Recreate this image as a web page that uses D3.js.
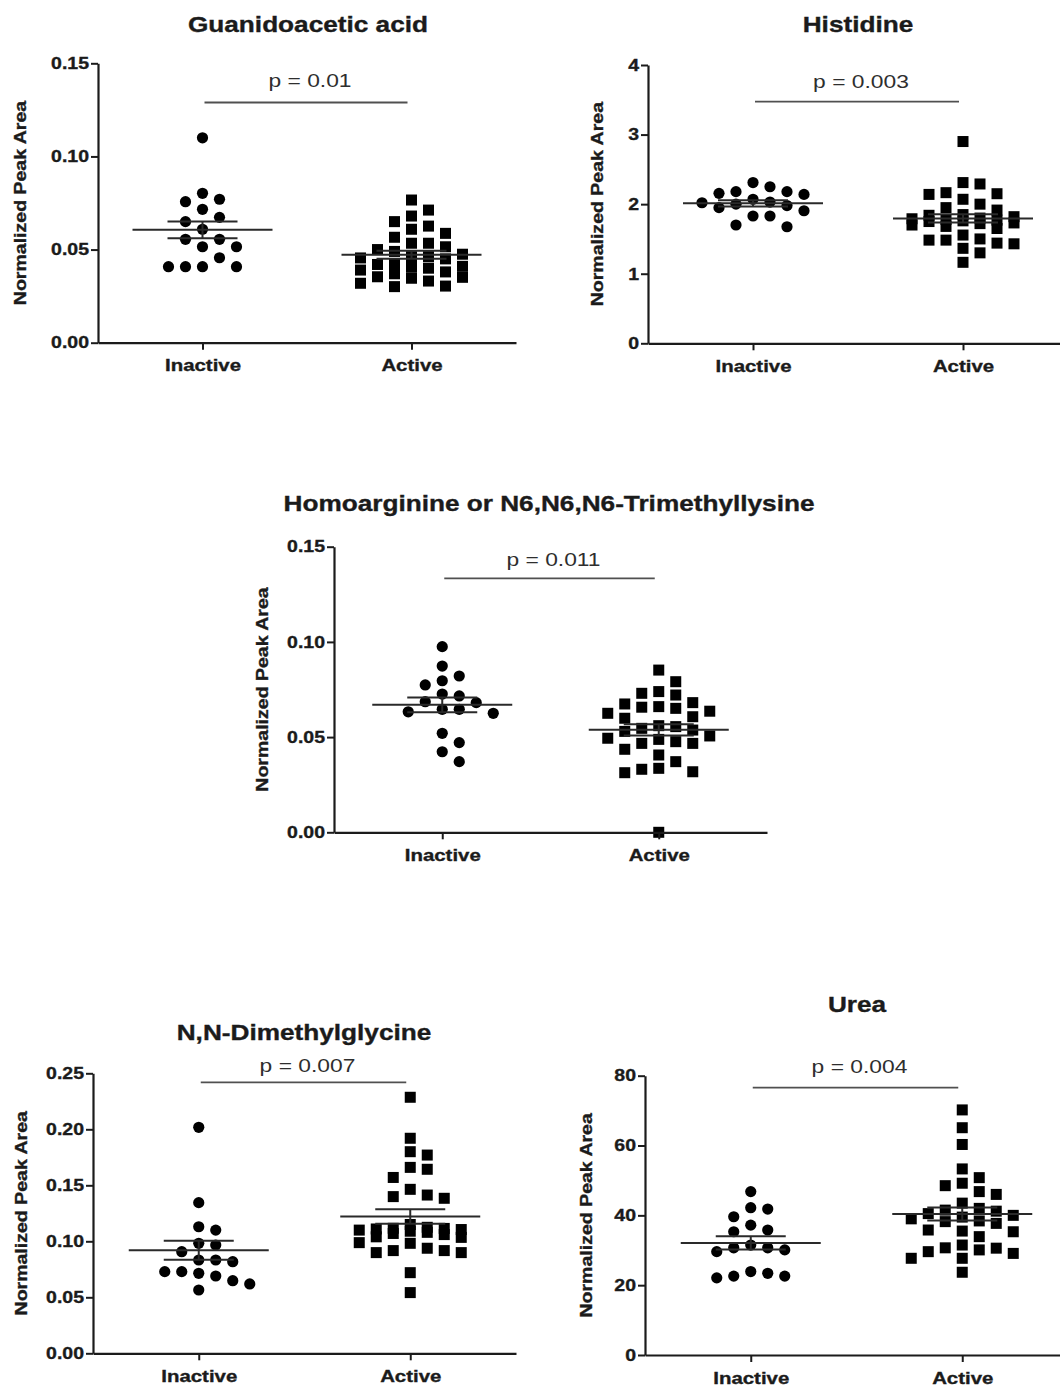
<!DOCTYPE html>
<html>
<head>
<meta charset="utf-8">
<script src="https://cdn.jsdelivr.net/npm/d3@7"></script>
<style>
  html, body { margin: 0; padding: 0; background: #fff; }
  svg { display: block; }
</style>
</head>
<body>
<script>
// ---- data -----------------------------------------------------------------
const categories = ["Inactive", "Active"];

const guanidoaceticInactive = [0.110, 0.0802, 0.0770, 0.0757, 0.0716, 0.0673, 0.0650, 0.0609, 0.0555, 0.0555, 0.0515, 0.0515, 0.0456, 0.0408, 0.0408, 0.0408, 0.0408];
const guanidoaceticActive = [0.0766, 0.0712, 0.0680, 0.0650, 0.0626, 0.0609, 0.0587, 0.0566, 0.0534, 0.0534, 0.0515, 0.0500, 0.0490, 0.0475, 0.0462, 0.0462, 0.0455, 0.0450, 0.0420, 0.0420, 0.0410, 0.0405, 0.0400, 0.0390, 0.0380, 0.0370, 0.0354, 0.0351, 0.0346, 0.0331, 0.0319, 0.0304, 0.0301];

const histidineInactive = [2.31, 2.25, 2.18, 2.18, 2.155, 2.14, 2.07, 2.03, 2.02, 2.00, 1.98, 1.95, 1.905, 1.83, 1.83, 1.70, 1.675];
const histidineActive = [2.90, 2.31, 2.29, 2.165, 2.15, 2.14, 2.07, 2.00, 1.95, 1.915, 1.85, 1.84, 1.82, 1.80, 1.79, 1.78, 1.77, 1.76, 1.75, 1.73, 1.72, 1.70, 1.68, 1.65, 1.556, 1.50, 1.483, 1.483, 1.44, 1.43, 1.365, 1.30, 1.164];

const homoarginineInactive = [0.0975, 0.0873, 0.0821, 0.0796, 0.0774, 0.0726, 0.0716, 0.0686, 0.0681, 0.0646, 0.0646, 0.0633, 0.0625, 0.0520, 0.0471, 0.0423, 0.0371];
const homoarginineActive = [0.0852, 0.0791, 0.0739, 0.0730, 0.0721, 0.0681, 0.0674, 0.0660, 0.0657, 0.0651, 0.0636, 0.0625, 0.0607, 0.0599, 0.0560, 0.0555, 0.0546, 0.0537, 0.0530, 0.0506, 0.0494, 0.0488, 0.0476, 0.0467, 0.0467, 0.0436, 0.0406, 0.0371, 0.0336, 0.0331, 0.0318, 0.0313, 0.0];

const dimethylglycineInactive = [0.2018, 0.1345, 0.1130, 0.1100, 0.0982, 0.0967, 0.0907, 0.0833, 0.0833, 0.0818, 0.0729, 0.0729, 0.0714, 0.0690, 0.0648, 0.0619, 0.0565];
const dimethylglycineActive = [0.2286, 0.1920, 0.1800, 0.1770, 0.1660, 0.1643, 0.1570, 0.1464, 0.1413, 0.1399, 0.1384, 0.1150, 0.1125, 0.1116, 0.1115, 0.1110, 0.1105, 0.1100, 0.1090, 0.1080, 0.1070, 0.1060, 0.1040, 0.1035, 0.0988, 0.0982, 0.0938, 0.0917, 0.0917, 0.0899, 0.0899, 0.0720, 0.0542];

const ureaInactive = [46.8, 42.2, 41.8, 39.6, 37.2, 35.8, 35.3, 31.5, 30.7, 30.7, 30.1, 29.6, 23.9, 23.4, 22.6, 22.6, 22.1];
const ureaActive = [70.2, 65.1, 60.3, 53.3, 50.8, 49.2, 48.5, 46.8, 46.0, 43.5, 42.0, 41.5, 41.2, 40.5, 40.0, 39.5, 39.0, 38.4, 38.2, 37.7, 35.8, 35.5, 35.3, 33.9, 31.5, 30.7, 30.6, 30.1, 29.6, 29.1, 27.7, 27.7, 23.7];

const panelTitles = ["Guanidoacetic acid", "Histidine", "Homoarginine or N6,N6,N6-Trimethyllysine", "N,N-Dimethylglycine", "Urea"];
const pValueLabels = ["p = 0.01", "p = 0.003", "p = 0.011", "p = 0.007", "p = 0.004"];
const yAxisLabel = "Normalized Peak Area";

const ticksFraction015 = [0, 0.05, 0.10, 0.15];
const ticksHistidine = [0, 1, 2, 3, 4];
const ticksFraction025 = [0, 0.05, 0.10, 0.15, 0.20, 0.25];
const ticksUrea = [0, 20, 40, 60, 80];

// ---- page -------------------------------------------------------------------
const W = 1060, H = 1387;
const FONT = "'Liberation Sans', Arial, Helvetica, sans-serif";
const INK = "#1b1b1b";
const COL_STEP = 17;         // horizontal spacing of scatter columns
const MAX_COL = 3;           // columns either side of the group centre
const MIN_GAP = 13;          // vertical room a symbol wants within a column
const MARK_R = 5.6;
const MARK_SQ = 11;

const svg = d3.select("body").append("svg")
  .attr("width", W).attr("height", H)
  .attr("viewBox", `0 0 ${W} ${H}`);
svg.append("rect").attr("width", W).attr("height", H).attr("fill", "#fff");

// stretch a text run horizontally (the lettering in this figure is set wide)
function widen(sel, k) {
  sel.each(function () {
    const w = this.getComputedTextLength();
    d3.select(this).attr("textLength", w * k).attr("lengthAdjust", "spacingAndGlyphs");
  });
}

// Column scatter: each value takes the first column (0, +1, -1, +2, ...) with
// enough vertical room; when every column is crowded it takes the roomiest one.
function columnSwarm(values, y) {
  const placed = [];
  const order = [0];
  for (let c = 1; c <= MAX_COL; c++) order.push(c, -c);
  return values.map(v => {
    const py = y(v);
    let best = 0, bestRoom = -1, col = null;
    for (const c of order) {
      let room = Infinity;
      placed.forEach(p => { if (p.col === c) room = Math.min(room, Math.abs(p.py - py)); });
      if (room >= MIN_GAP) { col = c; break; }
      if (room > bestRoom) { bestRoom = room; best = c; }
    }
    if (col === null) col = best;
    placed.push({ col, py });
    return { v, col, py };
  });
}

const panels = [
  { title: panelTitles[0], p: pValueLabels[0], groups: [guanidoaceticInactive, guanidoaceticActive],
    yMax: 0.15, ticks: ticksFraction015, fmt: ".2f",
    L: { x0: 98, x1: 516, yTop: 63.3, yBot: 342.7, tx: 308, ty: 31.5, ax: 26, barY: 102.5, pY: 87 } },
  { title: panelTitles[1], p: pValueLabels[1], groups: [histidineInactive, histidineActive],
    yMax: 4, ticks: ticksHistidine, fmt: "d",
    L: { x0: 648, x1: 1068, yTop: 65, yBot: 343.3, tx: 858, ty: 31.5, ax: 603, barY: 101.7, pY: 88 } },
  { title: panelTitles[2], p: pValueLabels[2], groups: [homoarginineInactive, homoarginineActive],
    yMax: 0.15, ticks: ticksFraction015, fmt: ".2f",
    L: { x0: 334, x1: 767, yTop: 546.7, yBot: 832.3, tx: 549, ty: 511, ax: 268, barY: 578.3, pY: 566 } },
  { title: panelTitles[3], p: pValueLabels[3], groups: [dimethylglycineInactive, dimethylglycineActive],
    yMax: 0.25, ticks: ticksFraction025, fmt: ".2f",
    L: { x0: 93, x1: 516, yTop: 1073.3, yBot: 1353.3, tx: 304, ty: 1040, ax: 27, barY: 1082.3, pY: 1072 } },
  { title: panelTitles[4], p: pValueLabels[4], groups: [ureaInactive, ureaActive],
    yMax: 80, ticks: ticksUrea, fmt: "d",
    L: { x0: 645, x1: 1068, yTop: 1075.7, yBot: 1355, tx: 857, ty: 1012, ax: 592, barY: 1087.7, pY: 1073 } }
];

function boldText(sel, size, k) {
  sel.attr("fill", INK)
    .attr("stroke", INK).attr("stroke-width", 0.35)
    .style("font-family", FONT).style("font-size", size + "px").style("font-weight", "bold")
    .call(widen, k);
}

function drawPanel(cfg) {
  const L = cfg.L;
  const g = svg.append("g");
  const x = d3.scalePoint().domain(categories).range([L.x0, L.x1]).padding(0.5);
  const y = d3.scaleLinear().domain([0, cfg.yMax]).range([L.yBot, L.yTop]);

  // points
  cfg.groups.forEach((vals, gi) => {
    const cx0 = x(categories[gi]);
    const pts = columnSwarm(vals, y);
    if (gi === 0) {
      g.append("g").selectAll("circle").data(pts).join("circle")
        .attr("cx", d => cx0 + d.col * COL_STEP)
        .attr("cy", d => d.py)
        .attr("r", MARK_R)
        .attr("fill", "#000");
    } else {
      g.append("g").selectAll("rect").data(pts).join("rect")
        .attr("x", d => cx0 + d.col * COL_STEP - MARK_SQ / 2)
        .attr("y", d => d.py - MARK_SQ / 2)
        .attr("width", MARK_SQ).attr("height", MARK_SQ)
        .attr("fill", "#000");
    }
  });

  // axes
  const ya = g.append("g").attr("transform", `translate(${L.x0},0)`)
    .call(d3.axisLeft(y).tickValues(cfg.ticks).tickFormat(d3.format(cfg.fmt))
      .tickSize(7).tickPadding(2).tickSizeOuter(0));
  const xa = g.append("g").attr("transform", `translate(0,${L.yBot})`)
    .call(d3.axisBottom(x).tickSize(7).tickSizeOuter(0));
  [ya, xa].forEach(a => {
    a.select(".domain").attr("stroke", INK).attr("stroke-width", 2.2);
    a.selectAll(".tick line").attr("stroke", INK).attr("stroke-width", 2);
  });
  ya.selectAll(".tick text").call(boldText, 16.5, 1.18);
  xa.selectAll(".tick text").attr("y", 28.5).attr("dy", 0).call(boldText, 17, 1.2);

  // mean ± SEM
  cfg.groups.forEach((vals, gi) => {
    const cx = x(categories[gi]);
    const m = d3.mean(vals);
    const se = d3.deviation(vals) / Math.sqrt(vals.length);
    const eg = g.append("g").attr("stroke", "#2a2a2a").attr("stroke-width", 2).attr("fill", "none");
    eg.append("line").attr("x1", cx - 70).attr("x2", cx + 70).attr("y1", y(m)).attr("y2", y(m));
    eg.append("line").attr("x1", cx - 35).attr("x2", cx + 35).attr("y1", y(m + se)).attr("y2", y(m + se));
    eg.append("line").attr("x1", cx - 35).attr("x2", cx + 35).attr("y1", y(m - se)).attr("y2", y(m - se));
    eg.append("line").attr("x1", cx).attr("x2", cx).attr("y1", y(m + se)).attr("y2", y(m - se));
  });

  // significance bar and p value
  const bx1 = x(categories[0]) + 2, bx2 = x(categories[1]) - 4;
  g.append("line").attr("x1", bx1).attr("x2", bx2).attr("y1", L.barY).attr("y2", L.barY)
    .attr("stroke", "#505050").attr("stroke-width", 1.8);
  g.append("text").attr("x", (bx1 + bx2) / 2 + 4).attr("y", L.pY)
    .attr("text-anchor", "middle").attr("fill", "#2e2e2e")
    .style("font-family", FONT).style("font-size", "19px")
    .text(cfg.p).call(widen, 1.2);

  // panel title
  g.append("text").attr("x", L.tx).attr("y", L.ty)
    .attr("text-anchor", "middle").text(cfg.title)
    .call(boldText, 22, 1.19);

  // y axis title
  g.append("text")
    .attr("transform", `translate(${L.ax},${(L.yTop + L.yBot) / 2}) rotate(-90)`)
    .attr("text-anchor", "middle").text(yAxisLabel)
    .call(boldText, 16, 1.22);
}

panels.forEach(drawPanel);
</script>
</body>
</html>
